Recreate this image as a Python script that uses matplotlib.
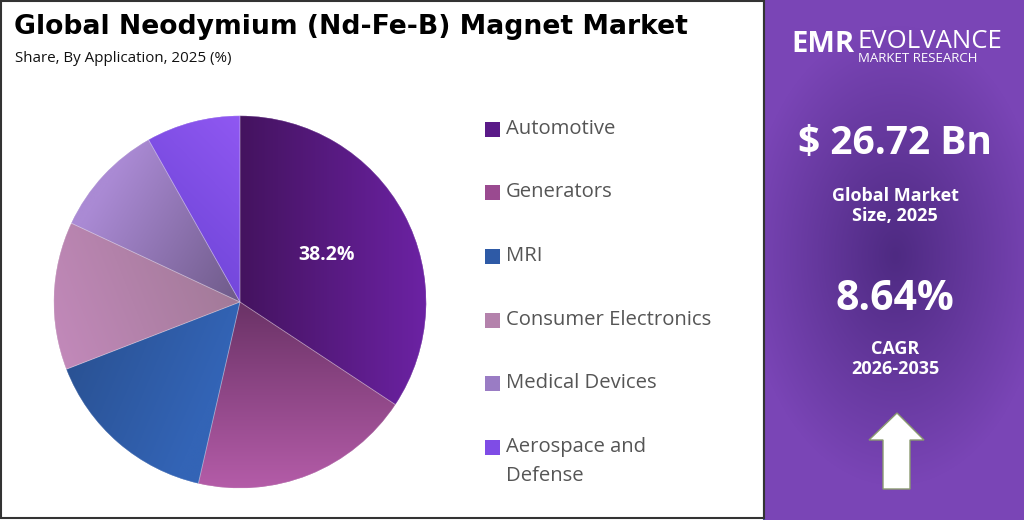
import matplotlib.pyplot as plt
import matplotlib.patches as mpatches
import numpy as np
from matplotlib.colors import to_rgb

# data
applications = ['Automotive', 'Generators', 'MRI', 'Consumer Electronics',
                'Medical Devices', 'Aerospace and\nDefense']
shares = [38.2, 21.5, 17.3, 14.3, 11.0, 9.1]
shown_labels = {0: '38.2%'}
market_size = '$ 26.72 Bn'
market_size_label = 'Global Market\nSize, 2025'
cagr = '8.64%'
cagr_label = 'CAGR\n2026-2035'

title = 'Global Neodymium (Nd-Fe-B) Magnet Market'
subtitle = 'Share, By Application, 2025 (%)'

# gradient (start point, end point, start colour, end colour) per slice, pie coords
grads = [
    ((0.0, 0.3), (1.0, 0.3), '#44135f', '#6c22a4'),
    ((0.2, 0.0), (0.2, -1.0), '#6a3266', '#b45ca8'),
    ((-0.9, -0.3), (-0.2, -0.6), '#2a5294', '#3364b6'),
    ((0.0, 0.0), (-1.0, -0.4), '#a27a98', '#c48abc'),
    ((0.0, 0.0), (-0.8, 0.5), '#6e5a88', '#aa8ad4'),
    ((-0.5, 0.5), (0.0, 1.0), '#7448dc', '#9058f2'),
]
legend_colors = ['#5a1a88', '#9a4a90', '#2e5aa6', '#b482ac', '#9a7cc4', '#7f4ce6']

W, H = 1024, 520
fig = plt.figure(figsize=(W / 100, H / 100), dpi=100)
fig.patch.set_facecolor('white')

bg = fig.add_axes([0, 0, 1, 1])
bg.set_xlim(0, W)
bg.set_ylim(H, 0)
bg.axis('off')

# right panel radial gradient
px0, px1 = 764, W
yy, xx = np.mgrid[0:H, px0:px1]
d = np.sqrt(((xx - 895) / 150.0) ** 2 + ((yy - 255) / 230.0) ** 2)
t = np.clip(d, 0, 1)[..., None]
inner = np.array(to_rgb('#4e2a82'))
outer = np.array(to_rgb('#7a45b6'))
panel = inner * (1 - t) + outer * t
bg.imshow(panel, extent=[px0, px1, H, 0], aspect='auto', zorder=0)
bg.plot([px0, px0], [0, H], color='#3d4a8c', lw=1.5, zorder=2)
bg.add_patch(mpatches.Rectangle((1, 1), px0 - 1, H - 3, fill=False,
                                edgecolor='#333333', lw=1.5, zorder=2))

# titles
bg.text(14, 27, title, fontsize=19.2, fontweight='bold', family='DejaVu Sans',
        color='black', va='center', ha='left')
bg.text(15, 59, subtitle, fontsize=10.9, family='Open Sans',
        color='#111111', va='center', ha='left')

# legend
leg_y = [129, 192, 256, 320, 383, 447]
for i, name in enumerate(applications):
    bg.add_patch(mpatches.Rectangle((485, leg_y[i] - 7), 15, 15,
                                    facecolor=legend_colors[i], edgecolor='none'))
    lines = name.split('\n')
    for k, line in enumerate(lines):
        bg.text(506, leg_y[i] + 29 * k, line, fontsize=14.6, family='Open Sans',
                color='#555555', va='center', ha='left')

# logo
bg.text(791, 44, 'EMR', fontsize=21, fontweight='bold', family='Open Sans',
        color='white', va='center', ha='left')
bg.text(857, 41, 'EVOLVANCE', fontsize=18.5, family='Open Sans',
        color='white', va='center', ha='left')
bg.text(858, 59, 'MARKET RESEARCH', fontsize=9.5, family='Open Sans',
        color='white', va='center', ha='left')

# panel figures
cx = 895
bg.text(cx, 143, market_size, fontsize=28, fontweight='bold', family='Open Sans',
        color='white', va='center', ha='center')
bg.text(cx, 206, market_size_label, fontsize=13, fontweight='bold', family='Open Sans',
        color='white', va='center', ha='center', linespacing=1.2)
bg.text(cx, 299, cagr, fontsize=29.5, fontweight='bold', family='Open Sans',
        color='white', va='center', ha='center')
bg.text(cx, 359, cagr_label, fontsize=13, fontweight='bold', family='Open Sans',
        color='white', va='center', ha='center', linespacing=1.2)

arrow = mpatches.Polygon([(897, 413), (924, 440), (910, 440), (910, 489),
                          (883, 489), (883, 440), (869, 440)], closed=True,
                         facecolor='white', edgecolor='#8a9a70', lw=1, zorder=3)
bg.add_patch(arrow)

# pie
R = 188
pcx, pcy = 240, 302
ax = fig.add_axes([(pcx - R) / W, (H - pcy - R) / H, 2 * R / W, 2 * R / H])
wedges, _ = ax.pie(shares, startangle=90, counterclock=False, radius=1,
                   colors=legend_colors,
                   wedgeprops=dict(edgecolor='none', linewidth=0))
ax.set_xlim(-1.01, 1.01)
ax.set_ylim(-1.01, 1.01)
ax.axis('off')

gy, gx = np.mgrid[-1:1:400j, -1:1:400j]
for w, (p0, p1, c0, c1) in zip(wedges, grads):
    p0 = np.array(p0)
    v = np.array(p1) - p0
    tt = ((gx - p0[0]) * v[0] + (gy - p0[1]) * v[1]) / (v @ v)
    tt = np.clip(tt, 0, 1)[..., None]
    img = np.array(to_rgb(c0)) * (1 - tt) + np.array(to_rgb(c1)) * tt
    im = ax.imshow(img, extent=[-1, 1, -1, 1], origin='lower', zorder=2)
    im.set_clip_path(w)

# faint separators
for w in wedges:
    ax.add_patch(mpatches.Wedge((0, 0), 1, w.theta1, w.theta2, fill=False,
                                edgecolor=(1, 1, 1, 0.25), lw=0.6, zorder=3))

total = sum(shares)
angle = 90.0
for i, v in enumerate(shares):
    span = 360.0 * v / total
    mid = np.deg2rad(angle - span / 2)
    if i in shown_labels:
        ax.text(0.53 * np.cos(mid), 0.53 * np.sin(mid), shown_labels[i],
                fontsize=14, fontweight='bold', family='Open Sans', color='white',
                ha='center', va='center', zorder=4)
    angle -= span

fig.savefig('out.png', dpi=100)
